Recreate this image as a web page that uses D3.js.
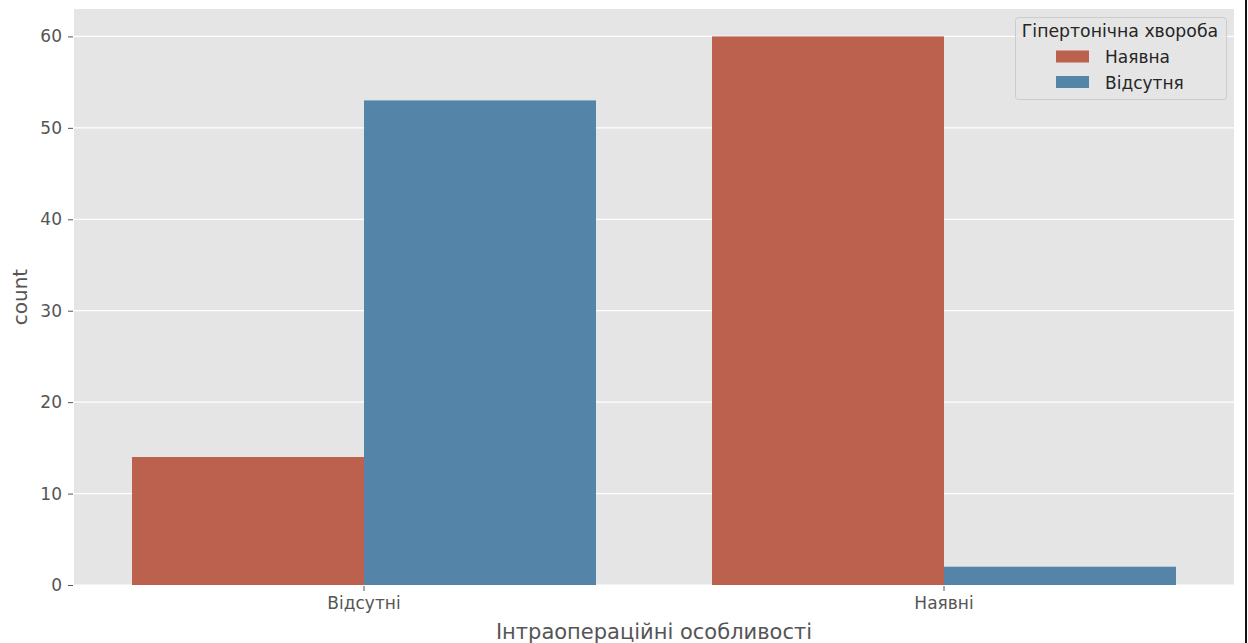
<!DOCTYPE html>
<html>
<head>
<meta charset="utf-8">
<script src="https://cdn.jsdelivr.net/npm/d3@7"></script>
<style>
  html, body { margin: 0; padding: 0; background: #ffffff; }
  svg { display: block; font-family: "DejaVu Sans", sans-serif; }
</style>
</head>
<body>
<svg id="chart" width="1248" height="643"></svg>
<script>
// Intraoperative features grouped by hypertension status
const categories = ["Відсутні", "Наявні"];
const hueLevels = ["Наявна", "Відсутня"];
const countsPresent = [14, 60];   // Наявна
const countsAbsent = [53, 2];     // Відсутня
const yTicks = [0, 10, 20, 30, 40, 50, 60];
const xLabel = "Інтраопераційні особливості";
const yLabel = "count";
const legendTitle = "Гіпертонічна хвороба";

const colors = { "Наявна": "#bd614f", "Відсутня": "#5584a9" };

const rows = [];
categories.forEach((c, i) => {
  rows.push({ cat: c, hue: "Наявна", value: countsPresent[i] });
  rows.push({ cat: c, hue: "Відсутня", value: countsAbsent[i] });
});

const svg = d3.select("#chart");
const plot = { left: 74, right: 1234, top: 9, bottom: 585 };

const x = d3.scaleBand()
  .domain(categories)
  .range([plot.left, plot.right])
  .paddingInner(0)
  .paddingOuter(0);

const inner = d3.scaleBand()
  .domain(hueLevels)
  .range([x.bandwidth() * 0.1, x.bandwidth() * 0.9]);

const y = d3.scaleLinear()
  .domain([0, 63])
  .range([plot.bottom, plot.top]);

// panel background
svg.append("rect")
  .attr("x", plot.left).attr("y", plot.top)
  .attr("width", plot.right - plot.left)
  .attr("height", plot.bottom - plot.top)
  .attr("fill", "#e5e5e5");

// horizontal grid
svg.append("g")
  .selectAll("line")
  .data(yTicks)
  .join("line")
  .attr("x1", plot.left).attr("x2", plot.right)
  .attr("y1", d => y(d)).attr("y2", d => y(d))
  .attr("stroke", "#ffffff")
  .attr("stroke-width", 1.2);

// bars
svg.append("g")
  .selectAll("rect")
  .data(rows)
  .join("rect")
  .attr("x", d => x(d.cat) + inner(d.hue))
  .attr("width", inner.bandwidth())
  .attr("y", d => y(d.value))
  .attr("height", d => y(0) - y(d.value))
  .attr("fill", d => colors[d.hue]);

// y axis
const yAxis = svg.append("g")
  .attr("transform", `translate(${plot.left - 1},0)`)
  .call(d3.axisLeft(y).tickValues(yTicks).tickSize(5).tickPadding(6));
yAxis.select(".domain").remove();
yAxis.selectAll(".tick line").attr("stroke", "#555555");
yAxis.selectAll(".tick text")
  .attr("fill", "#555555")
  .style("font-size", "17px")
  .style("font-family", "DejaVu Sans");

// x axis
const xAxis = svg.append("g")
  .attr("transform", `translate(0,${plot.bottom + 1})`)
  .call(d3.axisBottom(x).tickSize(5).tickPadding(6));
xAxis.select(".domain").remove();
xAxis.selectAll(".tick line").attr("stroke", "#555555");
xAxis.selectAll(".tick text")
  .attr("fill", "#555555")
  .style("font-size", "17px")
  .style("font-family", "DejaVu Sans");

// axis titles
svg.append("text")
  .attr("x", (plot.left + plot.right) / 2)
  .attr("y", 639)
  .attr("text-anchor", "middle")
  .attr("fill", "#555555")
  .style("font-size", "21px")
  .text(xLabel);

svg.append("text")
  .attr("transform", `translate(27,${(plot.top + plot.bottom) / 2}) rotate(-90)`)
  .attr("text-anchor", "middle")
  .attr("fill", "#555555")
  .style("font-size", "20px")
  .text(yLabel);

// legend
const legend = svg.append("g");
legend.append("rect")
  .attr("x", 1015.5).attr("y", 17.5)
  .attr("width", 211).attr("height", 82)
  .attr("rx", 3)
  .attr("fill", "#e5e5e5")
  .attr("fill-opacity", 0.8)
  .attr("stroke", "#cccccc")
  .attr("stroke-width", 1);
legend.append("text")
  .attr("x", 1120).attr("y", 37)
  .attr("text-anchor", "middle")
  .attr("fill", "#262626")
  .style("font-size", "17.3px")
  .text(legendTitle);
const items = legend.selectAll("g.item")
  .data(hueLevels)
  .join("g")
  .attr("class", "item")
  .attr("transform", (d, i) => `translate(0,${i * 25.5})`);
items.append("rect")
  .attr("x", 1056).attr("y", 50.5)
  .attr("width", 33).attr("height", 12)
  .attr("fill", d => colors[d]);
items.append("text")
  .attr("x", 1105).attr("y", 63)
  .attr("fill", "#262626")
  .style("font-size", "17px")
  .text(d => d);

// frame edge on the right
svg.append("rect")
  .attr("x", 1245).attr("y", 0)
  .attr("width", 2).attr("height", 643)
  .attr("fill", "#111111");
</script>
</body>
</html>
